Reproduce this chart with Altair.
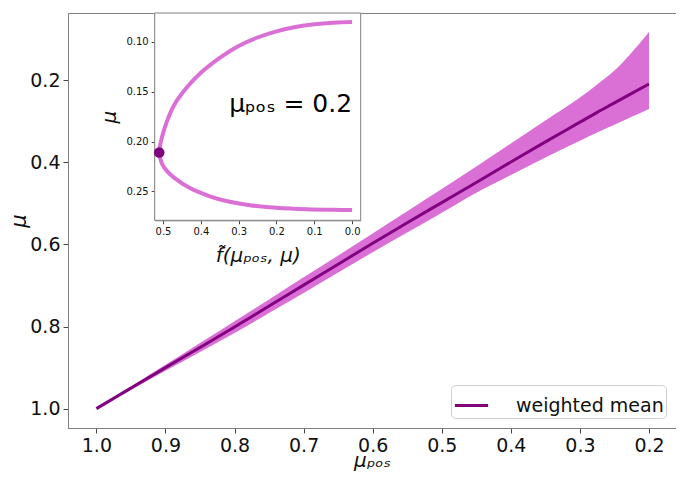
import altair as alt
import pandas as pd

# ---- main panel data ----
mu_pos = [1.0, 0.95, 0.9, 0.85, 0.8, 0.75, 0.7, 0.65, 0.6, 0.55, 0.5, 0.45, 0.4, 0.35, 0.3, 0.275, 0.25, 0.225, 0.2]
mean_mu = [1.0, 0.950, 0.900, 0.851, 0.801, 0.750, 0.699, 0.648, 0.597, 0.547, 0.498, 0.449, 0.399, 0.350, 0.302, 0.278, 0.255, 0.232, 0.209]
band_low = [1.0, 0.946, 0.893, 0.840, 0.787, 0.734, 0.680, 0.627, 0.573, 0.519, 0.465, 0.410, 0.354, 0.298, 0.242, 0.210, 0.176, 0.132, 0.082]
band_high = [1.0, 0.954, 0.908, 0.862, 0.816, 0.767, 0.718, 0.668, 0.619, 0.571, 0.523, 0.474, 0.431, 0.388, 0.347, 0.327, 0.308, 0.289, 0.270]
series_name = ["weighted mean"]

x_ticks = [1.0, 0.9, 0.8, 0.7, 0.6, 0.5, 0.4, 0.3, 0.2]
y_ticks = [0.2, 0.4, 0.6, 0.8, 1.0]
x_domain = [0.1609, 1.0411]
y_domain = [0.036, 1.0472]

# ---- inset data ----
inset_f = [0.0, 0.05, 0.10, 0.15, 0.20, 0.25, 0.30, 0.35, 0.40, 0.44, 0.47, 0.49, 0.503, 0.51,
           0.503, 0.49, 0.47, 0.43, 0.38, 0.33, 0.27, 0.20, 0.12, 0.05, 0.0]
inset_mu = [0.0800, 0.0806, 0.0822, 0.0850, 0.0893, 0.0955, 0.1040, 0.1160, 0.1310, 0.1470, 0.1630, 0.1800, 0.1960, 0.2110,
            0.2220, 0.2295, 0.2365, 0.2465, 0.2545, 0.2600, 0.2640, 0.2665, 0.2680, 0.2686, 0.2688]
peak_f = [0.51]
peak_mu = [0.211]
inset_label = "μₚₒₛ = 0.2"
inset_label_pos = [0.0, 0.1706]
inset_x_ticks = [0.5, 0.4, 0.3, 0.2, 0.1, 0.0]
inset_y_ticks = [0.10, 0.15, 0.20, 0.25]
inset_x_domain = [-0.0228, 0.522]
inset_y_domain = [0.0709, 0.2791]

W, H = 608, 415
INSET_X = [86.7, 292.7]
INSET_Y = [0, 207.3]
GRAY = "#808080"

main_df = pd.DataFrame({"mu_pos": mu_pos, "mean": mean_mu, "lo": band_low, "hi": band_high,
                        "series": series_name * len(mu_pos)})
inset_df = pd.DataFrame({"f": inset_f, "mu": inset_mu, "k": list(range(len(inset_f)))})
peak_df = pd.DataFrame({"f": peak_f, "mu": peak_mu})

xs = alt.Scale(domain=x_domain, reverse=True, nice=False, zero=False)
ys = alt.Scale(domain=y_domain, reverse=True, nice=False, zero=False)

x_axis = alt.Axis(values=x_ticks, format=".1f", title="μₚₒₛ", grid=False, labelFontSize=19,
                  titleFontSize=20, titleFontWeight="normal", titleFontStyle="italic",
                  titleY=38, titleBaseline="alphabetic",
                  tickSize=5, labelPadding=3, domainColor=GRAY, tickColor="#444",
                  labelColor="#111", titleColor="#111", labelFlush=False)
y_axis = alt.Axis(values=y_ticks, format=".1f", title="μ", grid=False, labelFontSize=19,
                  titleFontSize=21, titleFontWeight="normal", titleFontStyle="italic",
                  tickSize=5, labelPadding=3, titlePadding=0, domainColor=GRAY, tickColor="#444",
                  labelColor="#111", titleColor="#111", labelFlush=False)

band = alt.Chart(main_df).mark_area(color="#DA70D6", opacity=1, interpolate="monotone").encode(
    x=alt.X("mu_pos:Q", scale=xs, axis=x_axis),
    y=alt.Y("lo:Q", scale=ys, axis=y_axis),
    y2="hi:Q",
)
line = alt.Chart(main_df).mark_line(strokeWidth=3, interpolate="monotone").encode(
    x=alt.X("mu_pos:Q", scale=xs, axis=x_axis),
    y=alt.Y("mean:Q", scale=ys, axis=y_axis),
    color=alt.Color("series:N", scale=alt.Scale(domain=series_name, range=["#800080"]),
                    legend=alt.Legend(title=None, orient="bottom-right", offset=10,
                                      symbolType="stroke", symbolStrokeWidth=3, symbolSize=1100,
                                      labelFontSize=19, labelOffset=26, labelColor="#111",
                                      padding=2, strokeColor="#d0d0d0", fillColor="white",
                                      cornerRadius=4)),
)
main = alt.layer(band, line)

# ---- inset ----
ixs = alt.Scale(domain=inset_x_domain, reverse=True, range=INSET_X, nice=False, zero=False)
iys = alt.Scale(domain=inset_y_domain, range=INSET_Y, nice=False, zero=False)
ix_axis = alt.Axis(values=inset_x_ticks, format=".1f", title="f̃(μₚₒₛ, μ)", orient="bottom",
                   offset=-(H - INSET_Y[1]), grid=False, labelFontSize=10, tickSize=3.5,
                   labelPadding=3, titleFontSize=20, titleFontWeight="normal", titleFontStyle="italic",
                   titlePadding=9, domainColor=GRAY, tickColor="#444", labelColor="#111",
                   titleColor="#111", labelFlush=False)
iy_axis = alt.Axis(values=inset_y_ticks, format=".2f", title="μ", orient="left",
                   offset=-INSET_X[0], grid=False, labelFontSize=10, tickSize=3.5,
                   labelPadding=3, titleFontSize=20, titleFontWeight="normal", titleFontStyle="italic",
                   titlePadding=6, domainColor=GRAY, tickColor="#444", labelColor="#111",
                   titleColor="#111", labelFlush=False)

frame = alt.Chart(peak_df).mark_rect(fill="white", stroke=GRAY, strokeWidth=1).encode(
    x=alt.X(datum=inset_x_domain[1], scale=ixs, axis=ix_axis),
    x2=alt.X2(datum=inset_x_domain[0]),
    y=alt.Y(datum=inset_y_domain[0], scale=iys, axis=iy_axis),
    y2=alt.Y2(datum=inset_y_domain[1]),
)
curve = alt.Chart(inset_df).mark_line(color="#DA70D6", strokeWidth=4, interpolate="catmull-rom").encode(
    x=alt.X("f:Q", scale=ixs, axis=ix_axis),
    y=alt.Y("mu:Q", scale=iys, axis=iy_axis),
    order="k:Q",
)
dot = alt.Chart(peak_df).mark_circle(color="#800080", size=110, opacity=1).encode(
    x=alt.X("f:Q", scale=ixs, axis=ix_axis),
    y=alt.Y("mu:Q", scale=iys, axis=iy_axis),
)
label = alt.Chart(peak_df).mark_text(text=inset_label, fontSize=25, align="right",
                                     baseline="alphabetic", color="black").encode(
    x=alt.X(datum=inset_label_pos[0], scale=ixs, axis=ix_axis),
    y=alt.Y(datum=inset_label_pos[1], scale=iys, axis=iy_axis),
)
inset = alt.layer(frame, curve, dot, label)

chart = alt.layer(main, inset).resolve_scale(x="independent", y="independent").properties(
    width=W, height=H,
    autosize=alt.AutoSizeParams(type="none"),
    padding={"left": 60, "top": 5, "right": 0, "bottom": 44},
).configure(font="DejaVu Sans").configure_view(stroke=GRAY, strokeWidth=1)

chart.save("out.html", embed_options={"renderer": "svg", "actions": False})
